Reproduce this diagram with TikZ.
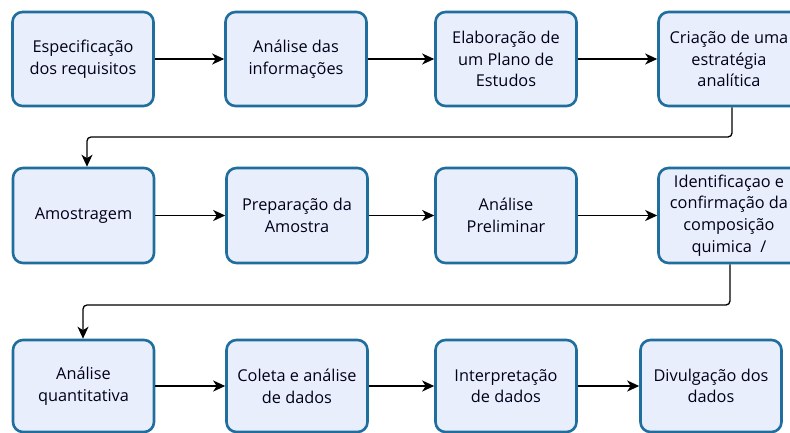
\documentclass[tikz,border=0pt]{standalone}
\usepackage{fontspec}
\setmainfont{Open Sans}
\usetikzlibrary{arrows.meta}
\definecolor{boxfill}{RGB}{233,238,252}
\definecolor{boxline}{RGB}{32,110,158}
\begin{document}
\begin{tikzpicture}[x=1pt,y=-1pt,
  stepbox/.style={draw=boxline,fill=boxfill,line width=2.6pt,rounded corners=10pt,
    minimum width=141pt,align=center,inner sep=0pt,
    font=\fontsize{16.3}{21.7}\selectfont,text=black!90!blue},
  flow/.style={line width=1.3pt,-{Stealth[length=12pt,width=11pt,inset=3.5pt]}},
  flowbold/.style={line width=2.2pt,-{Stealth[length=12pt,width=11pt,inset=3.5pt]}},
  link/.style={line width=1.3pt,rounded corners=4pt,-{Stealth[length=12pt,width=11pt,inset=3.5pt]}}]
\useasboundingbox (0,0) rectangle (790,432);
\clip (0,0) rectangle (790,432);
\fill[white] (0,0) rectangle (790,432);
% row 1
\node[stepbox,minimum height=94pt] (a1) at (83,59) {Especificação\\dos requisitos};
\node[stepbox,minimum height=94pt] (a2) at (296,59) {Análise das\\informações};
\node[stepbox,minimum height=94pt] (a3) at (506,59) {Elaboração de\\um Plano de\\Estudos};
\node[stepbox,minimum height=94pt] (a4) at (729,59) {Criação de uma\\estratégia\\analítica};
% row 2
\node[stepbox,minimum height=95pt] (b1) at (83.5,215.5) {Amostragem};
\node[stepbox,minimum height=95pt] (b2) at (297,215.5) {Preparação da\\Amostra};
\node[stepbox,minimum height=95pt] (b3) at (506,215.5) {Análise\\Preliminar};
\node[stepbox,minimum height=95pt] (b4) at (729,215.5) {Identificaçao e\\confirmação da\\composição\\quimica\ \ /};
% row 3
\node[stepbox,minimum height=92pt] (c1) at (83.5,386) {Análise\\quantitativa};
\node[stepbox,minimum height=92pt] (c2) at (297,386) {Coleta e análise\\de dados};
\node[stepbox,minimum height=92pt] (c3) at (506,386) {Interpretação\\de dados};
\node[stepbox,minimum height=92pt] (c4) at (711,386) {Divulgação dos\\dados};
% arrows
\draw[flow] (a1) -- (a2);
\draw[flow] (a2) -- (a3);
\draw[flow] (a3) -- (a4);
\draw[flow] (b1) -- (b2);
\draw[flow] (b2) -- (b3);
\draw[flow] (b3) -- (b4);
\draw[flowbold] (c1) -- (c2);
\draw[flowbold] (c2) -- (c3);
\draw[flowbold] (c3) -- (c4);
\draw[link] (a4.south -| 732,0) -- (732,137) -- (87,137) -- (b1.north -| 87,0);
\draw[link] (b4.south -| 730,0) -- (730,305) -- (83,305) -- (c1.north -| 83,0);
\end{tikzpicture}
\end{document}
